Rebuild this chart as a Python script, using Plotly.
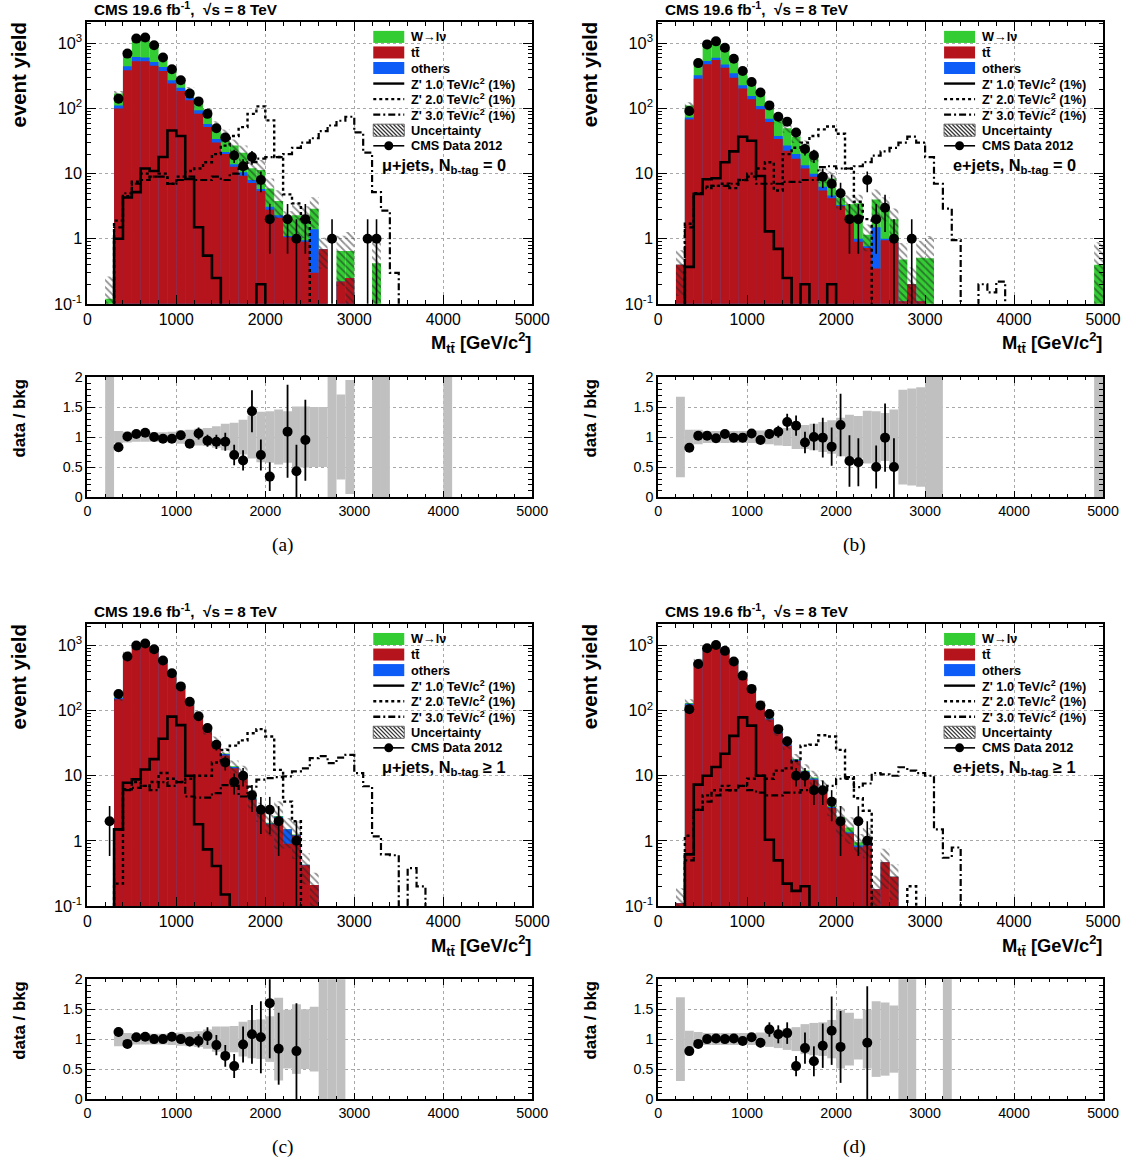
import math
import plotly.graph_objects as go

FIG_W, FIG_H = 1138, 1165

# ---------------- bins / ticks ----------------
bin_centers = [250, 350, 450, 550, 650, 750, 850, 950, 1050, 1150, 1250, 1350, 1450, 1550,
               1650, 1750, 1850, 1950, 2050, 2150, 2250, 2350, 2450, 2550, 2650, 2750, 2850,
               2950, 3050, 3150, 3250, 3350, 3450, 3550, 3650, 3750, 3850, 3950, 4050, 4150,
               4250, 4350, 4450, 4550, 4650, 4750, 4850, 4950]
bin_width = 100
x_tickvals = [0, 1000, 2000, 3000, 4000, 5000]
x_ticktext = ["0", "1000", "2000", "3000", "4000", "5000"]
y_tickvals = [0.1, 1, 10, 100, 1000]
y_ticktext = ["10<sup>-1</sup>", "1", "10", "10<sup>2</sup>", "10<sup>3</sup>"]
r_tickvals = [0, 0.5, 1, 1.5, 2]
r_ticktext = ["0", "0.5", "1", "1.5", "2"]

# ---------------- (a) mu+jets, N_btag = 0 ----------------
a_tt = [0, 100, 389, 534, 534, 457, 379, 242, 186, 134, 83, 52, 30, 20, 12.8, 9.3, 7.2, 5.4,
        2.8, 2.1, 1.05, 1.05, 0.9, 0.3, 0.69, 0, 0.22, 0.25, 0, 0, 0]
a_oth = [0, 12, 58, 89, 74, 65, 58, 30, 24, 16, 11, 6, 4, 1.5, 1.2, 1.2, 0.8, 0.4, 0.3, 0.2,
         0.05, 0.05, 0.05, 1.1]
a_w = [0.12, 58, 233, 511, 552, 418, 190, 142, 57, 41, 28, 30, 20, 17.5, 13, 10.5, 4.1, 5.6,
       2.8, 1.5, 0.75, 1.2, 1.15, 1.5, 0, 0, 0.43, 0.40, 0, 0, 0.42]
a_unc = [1.2, 0.10, 0.09, 0.08, 0.08, 0.08, 0.08, 0.09, 0.11, 0.12, 0.14, 0.15, 0.18, 0.22,
         0.24, 0.29, 0.36, 0.42, 0.43, 0.46, 0.43, 0.51, 0.51, 0.5, 0.5, 1.2, 0.71, 0.95, 0, 0,
         1.2, 1.2, 0, 0, 0, 0, 0, 0, 1.2]
a_data = [0, 142, 700, 1190, 1240, 940, 608, 402, 272, 170, 129, 83, 50, 36, 19, 13, 18, 8,
          2, 0, 2, 1, 2, 0, 0, 1, 0, 0, 0, 1, 1]
a_z1 = [0, 1.0, 4.3, 5.2, 12, 11, 18, 46, 38, 8.3, 1.5, 0.55, 0.25, 0, 0, 0, 0, 0.2]
a_z2 = [0, 1.9, 4.5, 7.5, 10, 9, 10, 7, 9, 11, 12, 15, 20, 27, 38, 52, 83, 108, 66, 18, 4.8,
        3.5, 2.0]
a_z3 = [0, 1.5, 5, 7, 8, 9, 9, 7, 8, 9, 8, 8, 9, 8, 10, 12, 15, 17, 18, 18, 20, 25, 30, 35,
        45, 55, 65, 75, 43, 21, 5.2, 2.7, 0.3]
a_ratio_x = [350, 450, 550, 650, 750, 850, 950, 1050, 1150, 1250, 1350, 1450, 1550, 1650,
             1750, 1850, 1950, 2050, 2250, 2350, 2450]
a_ratio = [0.83, 1.01, 1.05, 1.07, 1.00, 0.97, 0.97, 1.03, 0.89, 1.06, 0.94, 0.92, 0.92, 0.70,
           0.61, 1.43, 0.70, 0.34, 1.09, 0.43, 0.95]
a_ratio_hi = [0.04, 0.03, 0.03, 0.03, 0.03, 0.04, 0.05, 0.06, 0.07, 0.1, 0.1, 0.12, 0.15, 0.17,
              0.17, 0.35, 0.26, 0.24, 0.78, 0.44, 0.67]
a_ratio_lo = [0.04, 0.03, 0.03, 0.03, 0.03, 0.04, 0.05, 0.06, 0.07, 0.1, 0.1, 0.12, 0.15, 0.17,
              0.17, 0.35, 0.26, 0.24, 0.77, 0.43, 0.68]

# ---------------- (b) e+jets, N_btag = 0 ----------------
b_tt = [0.4, 68, 288, 480, 556, 425, 299, 204, 139, 98, 62, 34, 22.6, 17, 12, 9, 5.5, 4.2,
        3.2, 1.9, 0.9, 0.72, 0.35, 0.95, 0.9, 0.11, 0.2, 0.11]
b_oth = [0, 5, 37, 57, 48, 53, 49, 24, 17, 12, 8, 4, 4.4, 3, 1.5, 1, 0.8, 0.4, 0.1, 0.1, 0.1,
         0.05, 1.15, 0.05]
b_w = [0, 39, 165, 413, 506, 352, 247, 157, 89, 76, 38, 31, 23, 17, 13.5, 9, 3.2, 3.8, 1.0,
       1.4, 2.5, 0.38, 2.5, 2.1, 1.1, 0.37, 0, 0.4, 0.5, 0, 0, 0, 0, 0, 0, 0, 0, 0, 0, 0, 0,
       0, 0, 0, 0, 0, 0, 0.4]
b_unc = [0.67, 0.12, 0.12, 0.10, 0.10, 0.10, 0.10, 0.10, 0.10, 0.11, 0.12, 0.14, 0.15, 0.2,
         0.2, 0.22, 0.25, 0.28, 0.32, 0.37, 0.35, 0.44, 0.43, 0.4, 0.46, 0.79, 0.81, 0.83, 1.2,
         1.2, 0, 0, 0, 0, 0, 0, 0, 0, 0, 0, 0, 0, 0, 0, 0, 0, 0, 1.2]
b_data = [0, 92, 500, 970, 1080, 860, 585, 378, 257, 177, 112, 75, 63, 43, 24, 19, 9, 7, 5,
          2, 2, 8, 2, 3, 1, 0, 1]
b_z1 = [0, 0.37, 4.9, 8.2, 8.5, 15, 22, 37, 32, 9.2, 1.3, 0.7, 0.25, 0, 0.2, 0, 0, 0.2]
b_z2 = [0, 1.7, 5, 6.3, 6.5, 7, 6, 8, 9, 12, 15, 5.5, 20, 25, 30, 38, 48, 53, 41, 12, 3.7, 2.0]
b_z3 = [0, 1.5, 5, 6, 6.5, 6.5, 7, 8, 10, 7, 7, 7, 7.5, 7.5, 8, 8, 12.6, 13, 12, 12, 13, 15,
        19, 22, 25, 30, 37, 30, 18, 7, 2.9, 0.95, 0, 0, 0.2, 0.15, 0.22]
b_ratio_x = [350, 450, 550, 650, 750, 850, 950, 1050, 1150, 1250, 1350, 1450, 1550, 1650,
             1750, 1850, 1950, 2050, 2150, 2250, 2450, 2550, 2650]
b_ratio = [0.82, 1.02, 1.02, 0.98, 1.05, 0.99, 0.99, 1.06, 0.95, 1.05, 1.09, 1.25, 1.19, 0.91,
           1.0, 0.99, 0.84, 1.2, 0.6, 0.58, 0.5, 0.99, 0.5]
b_ratio_hi = [0.05, 0.03, 0.03, 0.03, 0.03, 0.04, 0.05, 0.06, 0.06, 0.08, 0.1, 0.14, 0.17, 0.18,
              0.22, 0.33, 0.32, 0.52, 0.43, 0.4, 0.36, 0.57, 0.48]
b_ratio_lo = [0.05, 0.03, 0.03, 0.03, 0.03, 0.04, 0.05, 0.06, 0.06, 0.08, 0.1, 0.14, 0.17, 0.18,
              0.22, 0.33, 0.32, 0.52, 0.43, 0.4, 0.36, 0.57, 0.5]

# ---------------- (c) mu+jets, N_btag >= 1 ----------------
c_tt = [0, 150, 700, 925, 995, 842, 565, 347, 226, 136, 81, 48.5, 31, 20.5, 13, 10, 4.3, 2.7,
        1.8, 2.25, 0.9, 1.2, 0.42, 0.21]
c_oth = [0, 8, 28, 30, 30, 26, 17, 10, 6.5, 4.5, 2.5, 1.6, 1.2, 1.0, 0.6, 0.4, 0.2, 0.1, 0.05,
         0.1, 0.6, 0.03, 0.01]
c_w = [0, 3, 12, 15, 15, 12, 8, 5, 3.5, 2.5, 1.5, 0.9, 0.8, 0.5, 0.4, 0.6, 0.1, 0.1, 0.05,
       0.05, 0, 0.02]
c_unc = [0, 0.12, 0.10, 0.09, 0.09, 0.09, 0.09, 0.10, 0.11, 0.12, 0.13, 0.16, 0.21, 0.21,
         0.22, 0.29, 0.32, 0.33, 0.38, 0.69, 0.49, 0.58, 0.5, 0.54, 1.2, 1.2, 1.2]
c_data = [2, 180, 680, 1000, 1080, 880, 590, 377, 236, 137, 82, 54, 30, 16, 8, 10, 5, 3, 3,
          2, 0, 1]
c_z1 = [0, 1.5, 7.8, 8.8, 12.5, 18, 37, 81, 60, 10, 1.8, 0.74, 0.41, 0.15]
c_z2 = [0, 0.22, 6.2, 8, 7, 8, 11, 9, 8, 9, 10, 10, 16, 25, 29, 35, 45, 52, 40, 12.3, 4, 2]
c_z3 = [0, 1.5, 6, 6.5, 7, 6, 8, 7, 8, 4.8, 4.6, 4.6, 5.4, 7.2, 7, 4.8, 6.8, 8.7, 9.2, 9.5,
        9.8, 11.7, 13, 18.6, 20, 15.6, 19, 21, 11, 6.9, 1.17, 0.62, 0.6, 0, 0.38, 0.2]
c_ratio_x = [350, 450, 550, 650, 750, 850, 950, 1050, 1150, 1250, 1350, 1450, 1550, 1650,
             1750, 1850, 1950, 2050, 2150, 2350]
c_ratio = [1.12, 0.92, 1.03, 1.04, 1.0, 1.0, 1.04, 1.0, 0.96, 0.97, 1.05, 0.9, 0.72, 0.55,
           0.91, 1.08, 1.03, 1.6, 0.84, 0.8]
c_ratio_hi = [0.08, 0.04, 0.03, 0.03, 0.03, 0.04, 0.05, 0.07, 0.08, 0.11, 0.15, 0.17, 0.18,
              0.2, 0.3, 0.49, 0.6, 0.7, 0.6, 0.8]
c_ratio_lo = [0.08, 0.04, 0.03, 0.03, 0.03, 0.04, 0.05, 0.07, 0.08, 0.11, 0.15, 0.17, 0.18,
              0.2, 0.3, 0.49, 0.6, 0.92, 0.6, 0.8]

# ---------------- (d) e+jets, N_btag >= 1 ----------------
d_tt = [0.11, 122, 530, 865, 960, 790, 537, 338, 199, 121, 73, 45.5, 29, 17, 11.2, 8.7, 6.2,
        3.2, 2.1, 1.3, 0.8, 0.85, 0.18, 0.47, 0.28]
d_oth = [0, 6, 20, 30, 33, 27, 19, 12, 7.5, 4.5, 2.8, 1.7, 1.2, 0.6, 0.5, 0.4, 0.3, 0.1, 0.05,
         0.05, 0.05, 0.03]
d_w = [0, 3, 10, 15, 17, 13, 9, 6, 3.5, 2.5, 1.2, 0.8, 0.8, 0.4, 0.3, 0.3, 0.2, 0.2, 0.15,
       0.25, 0.1, 0.18]
d_unc = [0.7, 0.14, 0.12, 0.10, 0.10, 0.10, 0.10, 0.10, 0.10, 0.11, 0.13, 0.15, 0.18, 0.2,
         0.25, 0.27, 0.28, 0.32, 0.49, 0.44, 0.34, 0.49, 0.63, 0.61, 0.56, 1.2, 1.2, 0, 0, 0,
         1.2]
d_data = [0, 105, 520, 910, 1020, 830, 570, 346, 216, 120, 89, 52, 34, 10, 10, 6, 6, 4, 2, 0,
          2, 1]
d_z1 = [0, 0.62, 7.3, 10, 13.6, 21.8, 41, 79, 59, 10, 1.04, 0.5, 0.22, 0.17, 0.2]
d_z2 = [0, 1.2, 3, 5, 6, 7, 6, 7, 9, 10, 9, 12, 13, 17, 29, 30, 42, 40, 25, 9, 4.5, 2.9, 0, 0,
        0, 0, 0.2]
d_z3 = [0, 0.5, 3, 4, 5, 6, 6, 7, 6, 5.5, 5, 5, 5.5, 5.5, 6, 6, 6, 7, 9, 9.5, 6.7, 7.6, 11,
        10.5, 10, 13.5, 12, 11, 10, 1.5, 0.55, 0.79]
d_ratio_x = [350, 450, 550, 650, 750, 850, 950, 1050, 1150, 1250, 1350, 1450, 1550, 1650,
             1750, 1850, 1950, 2050, 2350]
d_ratio = [0.8, 0.92, 1.0, 1.01, 1.0, 1.01, 0.97, 1.03, 0.94, 1.16, 1.08, 1.1, 0.55, 0.85,
           0.63, 0.89, 1.14, 0.87, 0.94]
d_ratio_hi = [0.05, 0.04, 0.03, 0.03, 0.03, 0.04, 0.05, 0.07, 0.08, 0.12, 0.15, 0.18, 0.17,
              0.26, 0.25, 0.37, 0.57, 0.6, 0.94]
d_ratio_lo = [0.05, 0.04, 0.03, 0.03, 0.03, 0.04, 0.05, 0.07, 0.08, 0.12, 0.15, 0.18, 0.17,
              0.26, 0.25, 0.37, 0.57, 0.6, 0.94]

legend_labels = ["W→lν", "tt̄", "others", "Z' 1.0 TeV/c<sup>2</sup> (1%)",
                 "Z' 2.0 TeV/c<sup>2</sup> (1%)", "Z' 3.0 TeV/c<sup>2</sup> (1%)",
                 "Uncertainty", "CMS Data 2012"]
channel_labels = ["μ+jets, N<sub>b-tag</sub> = 0", "e+jets, N<sub>b-tag</sub> = 0",
                  "μ+jets, N<sub>b-tag</sub> ≥ 1", "e+jets, N<sub>b-tag</sub> ≥ 1"]
panel_tags = ["(a)", "(b)", "(c)", "(d)"]

panels = [
    dict(tt=a_tt, oth=a_oth, w=a_w, unc=a_unc, data=a_data, z1=a_z1, z2=a_z2, z3=a_z3,
         rx=a_ratio_x, r=a_ratio, rhi=a_ratio_hi, rlo=a_ratio_lo),
    dict(tt=b_tt, oth=b_oth, w=b_w, unc=b_unc, data=b_data, z1=b_z1, z2=b_z2, z3=b_z3,
         rx=b_ratio_x, r=b_ratio, rhi=b_ratio_hi, rlo=b_ratio_lo),
    dict(tt=c_tt, oth=c_oth, w=c_w, unc=c_unc, data=c_data, z1=c_z1, z2=c_z2, z3=c_z3,
         rx=c_ratio_x, r=c_ratio, rhi=c_ratio_hi, rlo=c_ratio_lo),
    dict(tt=d_tt, oth=d_oth, w=d_w, unc=d_unc, data=d_data, z1=d_z1, z2=d_z2, z3=d_z3,
         rx=d_ratio_x, r=d_ratio, rhi=d_ratio_hi, rlo=d_ratio_lo),
]

# ---------------- styling ----------------
GREEN = "#33cc33"
RED = "#b5141d"
BLUE = "#0d5cf7"
BAND = "#c0c0c0"
FONT = "Liberation Sans"
DASHDOT = "7px,3px,2px,3px"

offsets = [(0, 0), (571, 0), (0, 600), (571, 600)]
FR_X0, FR_X1 = 87, 532
MAIN_Y0, MAIN_Y1 = 22, 303
RAT_Y0, RAT_Y1 = 376, 495.5

# layout calibration (target pixel positions -> figure pixels)
SX, OX = 0.981, 3.6
SY, OY = 0.982, 8.2
FS = 1.02  # font scale


def PX(px):
    return ((px - OX) / SX) / FIG_W


def PY(py):
    return 1 - ((py - OY) / SY) / FIG_H


def pad(v):
    v = list(v)
    return v + [0] * (len(bin_centers) - len(v))


def step_xy(vals):
    xs, ys = [], []
    for i, v in enumerate(vals):
        xs.append(bin_centers[i] - bin_width / 2)
        ys.append(v if v > 0 else 1e-4)
    xs.append(bin_centers[len(vals) - 1] + bin_width / 2)
    ys.append(1e-4)
    return xs, ys


def hatch_segments(x0, x1, yt, yb, step=4.0):
    h = yb - yt
    segs = []
    s = x0 - h
    while s < x1:
        t0 = max(0.0, (x0 - s) / h)
        t1 = min(1.0, (x1 - s) / h)
        if t1 > t0:
            segs.append((s + h * t0, yt + h * t0, s + h * t1, yt + h * t1))
        s += step
    return segs


fig = go.Figure()
layout = dict(width=FIG_W, height=FIG_H, margin=dict(l=0, r=0, t=0, b=0),
              paper_bgcolor="white", plot_bgcolor="white", barmode="overlay",
              showlegend=False, font=dict(family=FONT, color="black"))
shapes, annotations = [], []

axis_common = dict(showline=True, linecolor="black", linewidth=1.8, mirror="ticks",
                   ticks="inside", tickcolor="black", tickwidth=1, showgrid=True,
                   gridcolor="#a8a8a8", griddash="dot", gridwidth=1, zeroline=False)

minor_log = [m * 10 ** e for e in range(-1, 4) for m in range(2, 10) if m * 10 ** e < 2100]

for p, (P, (dx, dy)) in enumerate(zip(panels, offsets)):
    mi, ri = p + 1, p + 5
    xm = "x" if mi == 1 else f"x{mi}"
    ym = "y" if mi == 1 else f"y{mi}"
    xr, yr = f"x{ri}", f"y{ri}"

    tt, oth, w, unc, data = pad(P["tt"]), pad(P["oth"]), pad(P["w"]), pad(P["unc"]), pad(P["data"])
    tot = [a + b + c for a, b, c in zip(tt, oth, w)]
    mid = [a + b for a, b in zip(tt, oth)]

    def nz(vals):
        return [v if v > 0 else None for v in vals]

    for vals, col in ((tot, GREEN), (mid, BLUE), (tt, RED)):
        fig.add_trace(go.Bar(x=bin_centers, y=nz(vals), width=bin_width, marker_color=col,
                             marker_line_width=0, xaxis=xm, yaxis=ym, hoverinfo="skip"))

    hx, hbase, hy = [], [], []
    for c, t, u in zip(bin_centers, tot, unc):
        if t > 0 and u > 0:
            lo = max(t * (1 - u), 1e-3)
            hi = t * (1 + u)
            hx.append(c); hbase.append(lo); hy.append(hi - lo)
    fig.add_trace(go.Bar(x=hx, y=hy, base=hbase, width=bin_width,
                         marker=dict(color="rgba(0,0,0,0)", line_width=0,
                                     pattern=dict(shape="\\", fgcolor="#222222", size=5,
                                                  solidity=0.35, fillmode="overlay")),
                         xaxis=xm, yaxis=ym, hoverinfo="skip"))

    for vals, dash, lw in ((P["z1"], "solid", 2.6), (P["z2"], "dot", 2.4), (P["z3"], DASHDOT, 2.2)):
        sx, sy = step_xy(vals)
        fig.add_trace(go.Scatter(x=sx, y=sy, mode="lines", line=dict(color="black", width=lw,
                                 dash=dash, shape="hv"), xaxis=xm, yaxis=ym, hoverinfo="skip"))

    dxs = [c for c, n in zip(bin_centers, data) if n > 0]
    dys = [n for n in data if n > 0]
    derr = [math.sqrt(n) for n in dys]
    fig.add_trace(go.Scatter(x=dxs, y=dys, mode="markers",
                             marker=dict(color="black", size=10),
                             error_y=dict(type="data", array=derr, color="black", thickness=1.6, width=0),
                             xaxis=xm, yaxis=ym, hoverinfo="skip"))

    # ratio band
    bx, bb, by = [], [], []
    for c, u in zip(bin_centers, unc):
        if u > 0:
            bx.append(c); bb.append(1 - u); by.append(2 * u)
    fig.add_trace(go.Bar(x=bx, y=by, base=bb, width=bin_width, marker_color=BAND,
                         marker_line_width=0, xaxis=xr, yaxis=yr, hoverinfo="skip"))
    fig.add_trace(go.Scatter(x=P["rx"], y=P["r"], mode="markers",
                             marker=dict(color="black", size=10),
                             error_y=dict(type="data", symmetric=False, array=P["rhi"],
                                          arrayminus=P["rlo"], color="black", thickness=1.8, width=0),
                             xaxis=xr, yaxis=yr, hoverinfo="skip"))

    xdom = [PX(FR_X0 + dx), PX(FR_X1 + dx)]
    kx_m = "xaxis" if mi == 1 else f"xaxis{mi}"
    ky_m = "yaxis" if mi == 1 else f"yaxis{mi}"
    layout[kx_m] = dict(axis_common, domain=xdom, anchor=ym, range=[0, 5000],
                        tickmode="array", tickvals=x_tickvals, ticktext=x_ticktext,
                        ticklen=9, tickfont=dict(size=15.5 * FS),
                        minor=dict(ticks="inside", ticklen=4, dtick=200, tick0=0,
                                   tickcolor="black", showgrid=False))
    layout[ky_m] = dict(axis_common, domain=[PY(MAIN_Y1 + dy), PY(MAIN_Y0 + dy)], anchor=xm,
                        type="log", range=[-1, 3.333], tickmode="array", tickvals=y_tickvals,
                        ticktext=y_ticktext, ticklen=9, tickfont=dict(size=16 * FS),
                        minor=dict(ticks="inside", ticklen=4, tickmode="array",
                                   tickvals=minor_log, tickcolor="black", showgrid=False))
    layout[f"xaxis{ri}"] = dict(axis_common, domain=xdom, anchor=yr, range=[0, 5000],
                                tickmode="array", tickvals=x_tickvals, ticktext=x_ticktext,
                                ticklen=6, tickfont=dict(size=14 * FS),
                                minor=dict(ticks="inside", ticklen=3, dtick=200, tick0=0,
                                           tickcolor="black", showgrid=False))
    layout[f"yaxis{ri}"] = dict(axis_common, domain=[PY(RAT_Y1 + dy), PY(RAT_Y0 + dy)], anchor=xr,
                                range=[0, 2], tickmode="array", tickvals=r_tickvals,
                                ticktext=r_ticktext, ticklen=8, tickfont=dict(size=14 * FS),
                                minor=dict(ticks="inside", ticklen=4, dtick=0.1, tick0=0,
                                           tickcolor="black", showgrid=False))

    # ---- texts ----
    def ann(x, y, text, size, xanchor="left", yanchor="middle", angle=0, family=FONT):
        annotations.append(dict(x=PX(x), y=PY(y), xref="paper", yref="paper", text=text,
                                showarrow=False, xanchor=xanchor, yanchor=yanchor,
                                textangle=angle,
                                font=dict(size=size * FS, family=family, color="black")))

    ann(92 + dx, 9 + dy, "<b>CMS 19.6 fb<sup>-1</sup>,  √s = 8 TeV</b>", 15)
    ann(380 + dx, 166 + dy, "<b>" + channel_labels[p] + "</b>", 16)
    ann(533 + dx, 342 + dy, "<b>M<sub>tt̄</sub> [GeV/c<sup>2</sup>]</b>", 18, xanchor="right")
    ann(19 + dx, 75 + dy, "<b>event yield</b>", 20, xanchor="center", angle=-90)
    ann(19 + dx, 417 + dy, "<b>data / bkg</b>", 16.5, xanchor="center", angle=-90)
    ann(283 + dx, 543 + dy, panel_tags[p], 19, xanchor="center", family="Liberation Serif")

    # ---- manual legend ----
    lx0, lx1 = 373 + dx, 404 + dx
    for i, lab in enumerate(legend_labels):
        yc = 37 + 15.5 * i + dy
        ann(409 + dx, yc, "<b>" + lab + "</b>", 12.5)
        if i < 3:
            col = [GREEN, RED, BLUE][i]
            shapes.append(dict(type="rect", xref="paper", yref="paper", x0=PX(lx0), x1=PX(lx1),
                               y0=PY(yc + 6), y1=PY(yc - 6), fillcolor=col, line_width=0))
        elif i < 6:
            dash = ["solid", "dot", DASHDOT][i - 3]
            shapes.append(dict(type="line", xref="paper", yref="paper", x0=PX(lx0), x1=PX(lx1),
                               y0=PY(yc), y1=PY(yc), line=dict(color="black", width=2.4, dash=dash)))
        elif i == 6:
            yt, yb = yc - 6, yc + 6
            for (sx0, sy0, sx1, sy1) in hatch_segments(lx0, lx1, yt, yb):
                shapes.append(dict(type="line", xref="paper", yref="paper", x0=PX(sx0), x1=PX(sx1),
                                   y0=PY(sy0), y1=PY(sy1), line=dict(color="#333", width=1.2)))
            shapes.append(dict(type="rect", xref="paper", yref="paper", x0=PX(lx0), x1=PX(lx1),
                               y0=PY(yb), y1=PY(yt), line=dict(color="#666", width=1)))
        else:
            shapes.append(dict(type="line", xref="paper", yref="paper", x0=PX(lx0), x1=PX(lx1),
                               y0=PY(yc), y1=PY(yc), line=dict(color="black", width=1.6)))
            cx = (lx0 + lx1) / 2
            shapes.append(dict(type="circle", xref="paper", yref="paper", x0=PX(cx - 4.5),
                               x1=PX(cx + 4.5), y0=PY(yc + 4.5), y1=PY(yc - 4.5),
                               fillcolor="black", line=dict(color="black", width=0)))

layout["shapes"] = shapes
layout["annotations"] = annotations
fig.update_layout(**layout)
fig.write_html("out.html", config={"displayModeBar": False},
               post_script="document.body.style.margin='0px';document.body.style.overflow='hidden';")
